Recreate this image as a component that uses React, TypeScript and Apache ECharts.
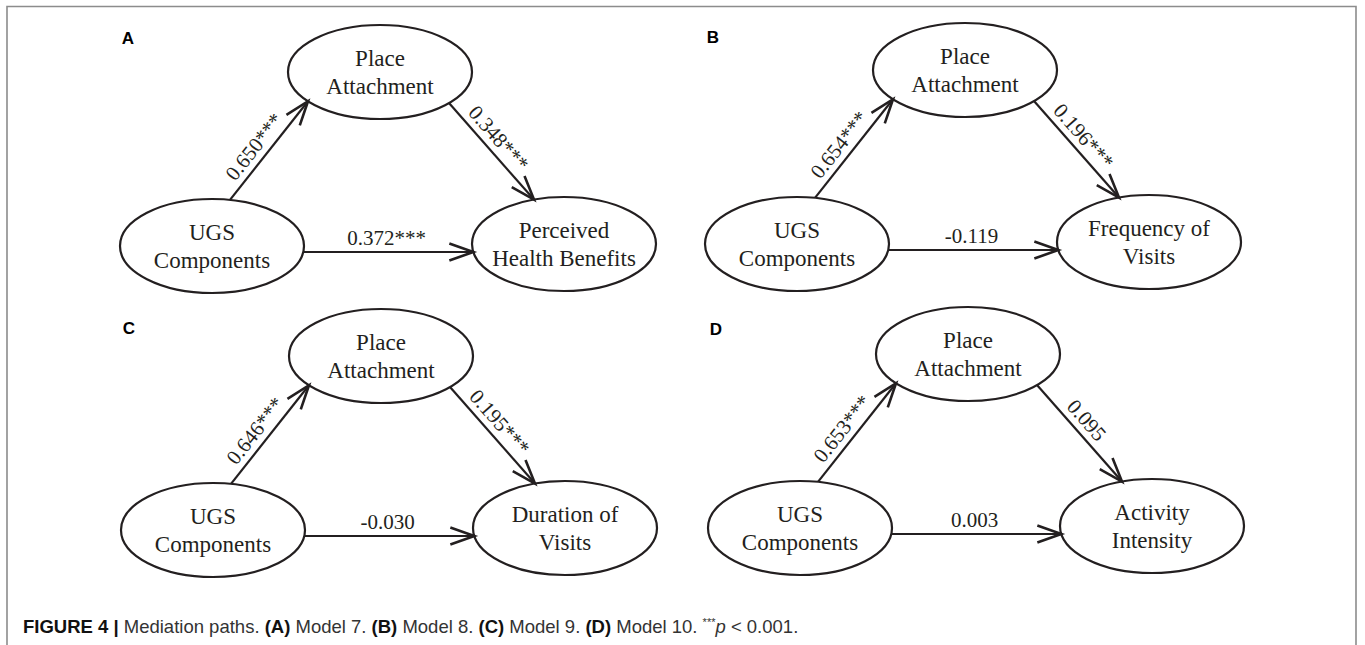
import React, { useEffect, useRef } from "react";
import * as echarts from "echarts";

// ---- Data ----
const panelLetters = ["A", "B", "C", "D"];
const predictorLabel = ["UGS", "Components"];
const mediatorLabel = ["Place", "Attachment"];
const outcomeLabels = [
  ["Perceived", "Health Benefits"],
  ["Frequency of", "Visits"],
  ["Duration of", "Visits"],
  ["Activity", "Intensity"],
];
// UGS -> Place Attachment
const pathA = ["0.650***", "0.654***", "0.646***", "0.653***"];
// Place Attachment -> outcome
const pathB = ["0.348***", "0.196***", "0.195***", "0.095"];
// UGS -> outcome (direct)
const pathC = ["0.372***", "-0.119", "-0.030", "0.003"];
const captionModels = ["Model 7.", "Model 8.", "Model 9.", "Model 10."];

// ---- Layout (positions only) ----
const layout = [
  { x: 212, y: 246, ly: -208 },
  { x: 797, y: 244, ly: -207 },
  { x: 213, y: 530, ly: -202 },
  { x: 800, y: 528, ly: -199 },
];
const RX = 92;
const RY = 47;
const INK = "#231f20";
const SERIF = "'Liberation Serif', 'Times New Roman', serif";
const SANS = "'Liberation Sans', Arial, sans-serif";

function ellY(cy: number, dx: number, sign: number) {
  return cy + sign * RY * Math.sqrt(1 - (dx / RX) * (dx / RX));
}
function ellX(cx: number, dy: number, sign: number) {
  return cx + sign * RX * Math.sqrt(1 - (dy / RY) * (dy / RY));
}

function buildGraphics() {
  const els: any[] = [];
  // frame
  els.push({
    type: "polyline",
    shape: { points: [[7, 645], [7, 6.5], [1356, 6.5], [1356, 645]] },
    style: { stroke: "#8c8c8c", lineWidth: 1.6, fill: null },
  });

  const ellipse = (cx: number, cy: number, lines: string[]) => {
    els.push({
      type: "ellipse",
      shape: { cx, cy, rx: RX, ry: RY },
      style: { fill: "#fff", stroke: INK, lineWidth: 2.2 },
      z: 5,
    });
    els.push({
      type: "text",
      x: cx,
      y: cy,
      z: 6,
      style: {
        text: lines.join("\n"),
        fontFamily: SERIF,
        fontSize: 23,
        lineHeight: 28,
        fill: INK,
        align: "center",
        verticalAlign: "middle",
      },
    });
  };

  const arrow = (s: number[], e: number[], label: string, t: number) => {
    const dx = e[0] - s[0];
    const dy = e[1] - s[1];
    const len = Math.sqrt(dx * dx + dy * dy);
    const ux = dx / len;
    const uy = dy / len;
    els.push({
      type: "line",
      shape: { x1: s[0], y1: s[1], x2: e[0] - ux * 1, y2: e[1] - uy * 1 },
      style: { stroke: INK, lineWidth: 2.2 },
      z: 3,
    });
    const L = 24;
    const Wd = 8.5;
    const bx = e[0] - ux * L;
    const by = e[1] - uy * L;
    const nx = -uy;
    const ny = ux;
    els.push({
      type: "polyline",
      shape: {
        points: [
          [bx + nx * Wd, by + ny * Wd],
          [e[0], e[1]],
          [bx - nx * Wd, by - ny * Wd],
        ],
      },
      style: { stroke: INK, lineWidth: 2.6, fill: null, lineJoin: "miter" },
      z: 7,
    });
    const r = Math.atan2(-dy, dx);
    const upx = -Math.sin(r);
    const upy = -Math.cos(r);
    const off = 3.5;
    els.push({
      type: "text",
      x: s[0] + dx * t + upx * off,
      y: s[1] + dy * t + upy * off,
      rotation: r,
      z: 6,
      style: {
        text: label,
        fontFamily: SERIF,
        fontSize: 21,
        fill: INK,
        align: "center",
        verticalAlign: "bottom",
      },
    });
  };

  layout.forEach((p, i) => {
    const ox = p.x;
    const oy = p.y;
    const pax = ox + 168;
    const pay = oy - 174;
    const outx = ox + 352;
    const outy = oy - 2;

    els.push({
      type: "text",
      x: ox - 84,
      y: oy + p.ly,
      style: {
        text: panelLetters[i],
        fontFamily: SANS,
        fontWeight: "bold",
        fontSize: 17,
        fill: "#000",
        align: "center",
        verticalAlign: "middle",
      },
    });

    ellipse(ox, oy, predictorLabel);
    ellipse(pax, pay, mediatorLabel);
    ellipse(outx, outy, outcomeLabels[i]);

    arrow([ox + 18, ellY(oy, 18, -1)], [pax - 72, ellY(pay, -72, 1)], pathA[i], 0.45);
    arrow([pax + 69, ellY(pay, 69, 1)], [outx - 30, ellY(outy, -30, -1)], pathB[i], 0.46);
    const hy = oy + 6;
    arrow([ellX(ox, 6, 1), hy], [ellX(outx, hy - outy, -1), hy], pathC[i], 0.49);
  });

  // caption
  let cap = "{b|FIGURE 4 | }{n|Mediation paths. }";
  panelLetters.forEach((l, i) => {
    cap += `{b|(${l})}{n| ${captionModels[i]} }`;
  });
  cap += "{s|***}{i|p}{n| < 0.001.}";
  const FS = 18.5;
  els.push({
    type: "text",
    x: 23,
    y: 626,
    style: {
      text: cap,
      fontFamily: SANS,
      fontSize: FS,
      fill: "#333",
      align: "left",
      verticalAlign: "middle",
      rich: {
        b: { fontFamily: SANS, fontSize: FS, fontWeight: "bold", fill: "#111" },
        n: { fontFamily: SANS, fontSize: FS, fill: "#333" },
        i: { fontFamily: SANS, fontSize: FS, fontStyle: "italic", fill: "#333" },
        s: { fontFamily: SANS, fontSize: 11, fill: "#333", verticalAlign: "top", padding: [0, 0, 7, 0] },
      },
    },
  });
  return els;
}

export default function App() {
  const ref = useRef<HTMLDivElement>(null);
  useEffect(() => {
    if (!ref.current) return;
    const chart = echarts.init(ref.current, null, { renderer: "svg" });
    chart.setOption({
      animation: false,
      backgroundColor: "#fff",
      graphic: { elements: buildGraphics() },
    });
    return () => chart.dispose();
  }, []);
  return (
    <div
      ref={ref}
      style={{ position: "fixed", left: 0, top: 0, width: 1365, height: 645, background: "#fff" }}
    />
  );
}
